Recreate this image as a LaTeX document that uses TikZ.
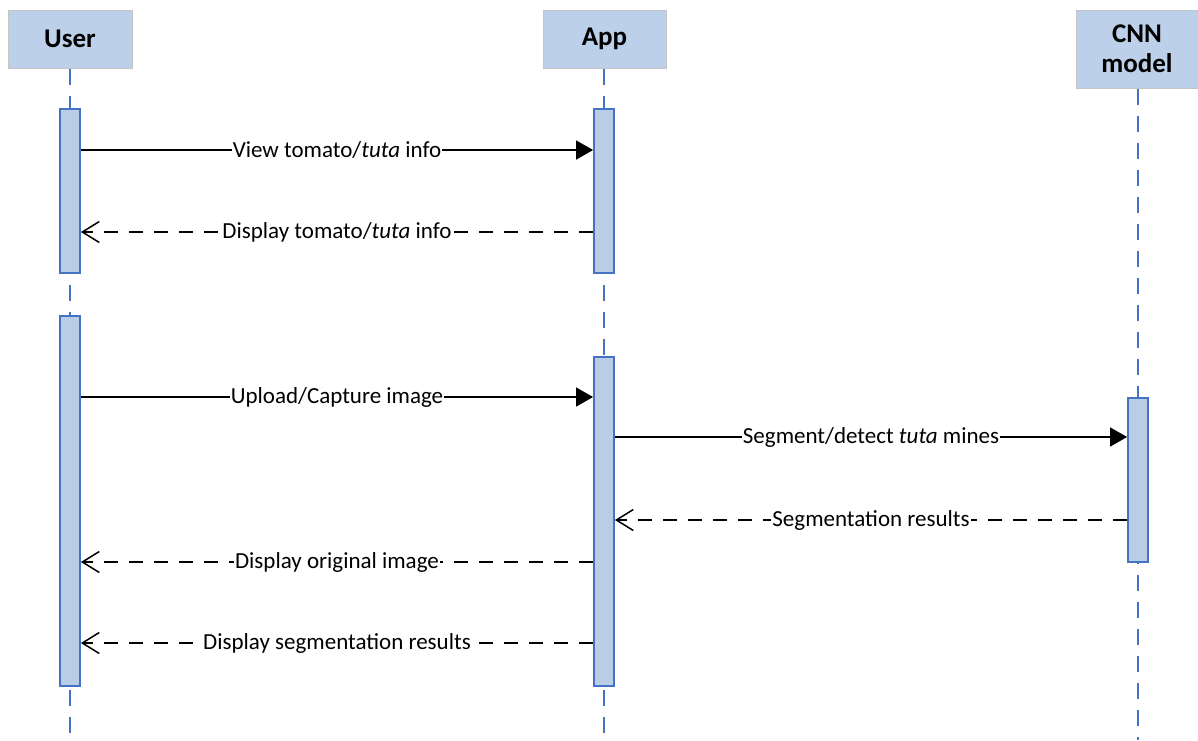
\documentclass[tikz,border=0pt]{standalone}
\usepackage{fontspec}
\setmainfont{Carlito}
\usetikzlibrary{arrows.meta}
\definecolor{hdrfill}{HTML}{BDD0E9}
\definecolor{hdrline}{HTML}{C4C4C4}
\definecolor{lifeblue}{HTML}{4472C4}
\definecolor{barfill}{HTML}{B9CDE6}
\tikzset{
  header/.style={draw=hdrline, line width=1pt, fill=hdrfill, minimum height=58pt,
    inner sep=0pt, font=\fontsize{27}{30}\selectfont\bfseries, align=center},
  lifeline/.style={draw=lifeblue, line width=1.5pt, dash pattern=on 16pt off 11pt},
  actbar/.style={draw=lifeblue, line width=1.8pt, fill=barfill, minimum width=20pt,
    inner sep=0pt, anchor=north},
  callmsg/.style={draw=black, line width=1.5pt, -{Triangle[length=17pt,width=19pt]}},
  replymsg/.style={draw=black, line width=1.5pt, dash pattern=on 14pt off 11pt,
    -{Straight Barb[length=17pt,width=21pt,line width=1.5pt]}},
  msglabel/.style={fill=white, inner xsep=1pt, inner ysep=2pt,
    font=\fontsize{23}{27}\selectfont}
}
\begin{document}
\begin{tikzpicture}[x=1pt, y=-1pt]
\useasboundingbox (0,0) rectangle (1198,740);

% participant heads
\node[header, minimum width=124pt] (user) at (70,39) {User};
\node[header, minimum width=123pt] (app)  at (604.5,39) {App};
\node[header, minimum width=122pt, minimum height=78pt] (cnn) at (1137,49) {CNN\\model};

% lifeline ends
\coordinate (userend) at (70,740);
\coordinate (append)  at (604,740);
\coordinate (cnnend)  at (1138,740);
\draw[lifeline] (user.south) -- (userend);
\draw[lifeline] (app.south -| append) -- (append);
\draw[lifeline] (cnn.south -| cnnend) -- (cnnend);

% activation bars
\node[actbar, minimum height=164pt] (ua1) at (70,108) {};
\node[actbar, minimum height=370pt] (ua2) at (70,315) {};
\node[actbar, minimum height=164pt] (aa1) at (604,108) {};
\node[actbar, minimum height=329pt] (aa2) at (604,356) {};
\node[actbar, minimum height=164pt] (ca1) at (1138,397) {};

% message rows
\coordinate (r1) at (0,150);
\coordinate (r2) at (0,232);
\coordinate (r3) at (0,397);
\coordinate (r4) at (0,437);
\coordinate (r5) at (0,520);
\coordinate (r6) at (0,562);
\coordinate (r7) at (0,643);

\draw[callmsg] (ua1.east |- r1) -- node[msglabel] (m1) {View tomato/\textit{tuta} info} (aa1.west |- r1);
\draw[replymsg] (aa1.west |- r2) -- node[msglabel] (m2) {Display tomato/\textit{tuta} info} (ua1.east |- r2);
\draw[callmsg] (ua2.east |- r3) -- node[msglabel] (m3) {Upload/Capture image} (aa2.west |- r3);
\draw[callmsg] (aa2.east |- r4) -- node[msglabel] (m4) {Segment/detect \textit{tuta} mines} (ca1.west |- r4);
\draw[replymsg] (ca1.west |- r5) -- node[msglabel] (m5) {Segmentation results} (aa2.east |- r5);
\draw[replymsg] (aa2.west |- r6) -- node[msglabel] (m6) {Display original image} (ua2.east |- r6);
\draw[replymsg] (aa2.west |- r7) -- node[msglabel] (m7) {Display segmentation results} (ua2.east |- r7);
\end{tikzpicture}
\end{document}
